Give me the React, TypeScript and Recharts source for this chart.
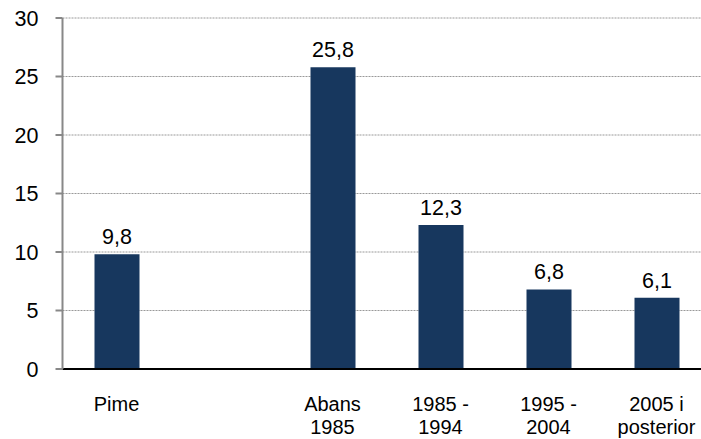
import { BarChart, Bar, XAxis, YAxis, CartesianGrid, LabelList } from 'recharts'

const CATEGORIES = ['Pime', '', 'Abans 1985', '1985 - 1994', '1995 - 2004', '2005 i posterior']
const TICK_LINES: string[][] = [['Pime'], [], ['Abans', '1985'], ['1985 -', '1994'], ['1995 -', '2004'], ['2005 i', 'posterior']]
const VALUES: (number | null)[] = [9.8, null, 25.8, 12.3, 6.8, 6.1]
const Y_TICKS = [0, 5, 10, 15, 20, 25, 30]

const FONT = '"Liberation Sans", Arial, sans-serif'
const BAR_COLOR = '#17375e'

const data = CATEGORIES.map((name, i) => ({ name, value: VALUES[i] }))

function XTick(props: any) {
  const { x, y, index } = props
  const lines = TICK_LINES[index] ?? []
  return (
    <text x={x} y={y} textAnchor="middle" fontSize={20} fontFamily={FONT} fill="#000">
      {lines.map((line, i) => (
        <tspan key={i} x={x} dy={i === 0 ? 34 : 23}>
          {line}
        </tspan>
      ))}
    </text>
  )
}

const fmt = (v: any) => (v == null ? '' : String(v).replace('.', ','))

export default function App() {
  return (
    <div
      style={{
        position: 'absolute',
        left: 0,
        top: 0,
        width: 701,
        height: 439,
        overflow: 'hidden',
        background: '#fff',
      }}
    >
      <BarChart
        width={730}
        height={439}
        data={data}
        margin={{ top: 18, right: 19.5, left: 0, bottom: 0 }}
        barSize={45}
      >
        <CartesianGrid vertical={false} stroke="#999" strokeDasharray="2 1" strokeWidth={1} />
        <XAxis
          dataKey="name"
          axisLine={{ stroke: '#000', strokeWidth: 2 }}
          tickLine={false}
          tick={<XTick />}
          interval={0}
          height={70}
        />
        <YAxis
          domain={[0, 30]}
          ticks={Y_TICKS}
          width={62.5}
          axisLine={{ stroke: '#888', strokeWidth: 2 }}
          tickLine={{ stroke: '#888', strokeWidth: 2 }}
          tickSize={7}
          tickMargin={17}
          tick={{ fill: '#000', fontSize: 21.5, fontFamily: FONT }}
        />
        <Bar dataKey="value" fill={BAR_COLOR} isAnimationActive={false}>
          <LabelList
            dataKey="value"
            position="top"
            offset={10}
            formatter={fmt}
            style={{ fill: '#000', fontSize: 21.5, fontFamily: FONT }}
          />
        </Bar>
      </BarChart>
    </div>
  )
}
